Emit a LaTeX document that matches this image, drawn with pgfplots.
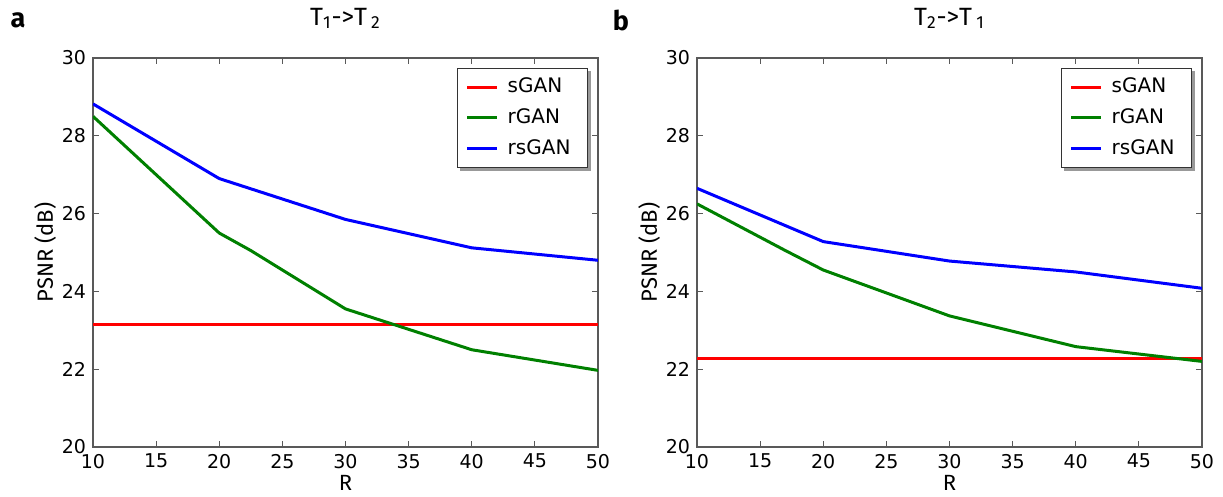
\documentclass[border=0pt]{standalone}
\usepackage{fontspec}
\setmainfont{DejaVu Sans}
\newfontfamily\labfont{Fira Sans}
\usepackage{pgfplots}
\pgfplotsset{compat=1.18}
\pgfdeclarelayer{background}
\pgfsetlayers{background,main}

\pgfplotsset{
  psnr/.style={
    scale only axis,
    width=252.5pt, height=194.5pt,
    xmin=10, xmax=50, ymin=20, ymax=30,
    xtick={10,15,...,50}, ytick={20,22,...,30},
    tick label style={font=\fontsize{9.5}{11}\selectfont},
    /pgf/number format/assume math mode=true,
    axis line style={black!65, line width=0.6pt},
    tick style={black!65, line width=0.5pt},
    major tick length=3pt,
    tick align=inside,
    xlabel={\labfont R}, ylabel={\labfont PSNR (dB)},
    label style={font=\fontsize{11}{13}\selectfont},
    xlabel style={yshift=3.5pt},
    ylabel style={yshift=-4pt},
    title style={font=\labfont\fontsize{12.5}{14}\selectfont, yshift=5pt},
    legend style={at={(0.98,0.975)}, anchor=north east,
      font=\fontsize{10}{12.5}\selectfont, draw=black!80,
      fill=white, inner xsep=4pt, inner ysep=3pt,
      row sep=2.5pt, nodes={inner xsep=4.5pt}},
    legend cell align=left,
    legend image code/.code={\draw[#1] (0pt,0pt) -- (15pt,0pt);},
    every axis plot/.append style={line width=1.5pt},
  }
}

\begin{document}
\begin{tikzpicture}
\useasboundingbox (0,0) rectangle (611.5pt,248.5pt);

\begin{axis}[psnr, at={(46.5pt,25pt)}, anchor=south west,
  title={T\textsubscript{1}->T\,\textsubscript{2}}, legend style={name=legA}]
\addplot[red] coordinates {(10,23.15) (20,23.15) (30,23.15) (40,23.15) (50,23.15)};
\addplot[green!50!black] coordinates {(10,28.5) (20,25.5) (22.5,25.05) (30,23.55) (40,22.5) (50,21.97)};
\addplot[blue] coordinates {(10,28.82) (20,26.9) (30,25.85) (40,25.12) (50,24.8)};
\legend{sGAN, rGAN, rsGAN}
\end{axis}

\begin{axis}[psnr, at={(348.5pt,25pt)}, anchor=south west,
  title={T\textsubscript{2}->T\,\textsubscript{1}}, legend style={name=legB}]
\addplot[red] coordinates {(10,22.28) (20,22.28) (30,22.28) (40,22.28) (50,22.28)};
\addplot[green!50!black] coordinates {(10,26.25) (17,25.05) (20,24.55) (30,23.37) (40,22.58) (50,22.2)};
\addplot[blue] coordinates {(10,26.65) (20,25.28) (30,24.78) (40,24.5) (50,24.08)};
\legend{sGAN, rGAN, rsGAN}
\end{axis}

\begin{pgfonlayer}{background}
\fill[black!40] ([shift={(1.5pt,-1.5pt)}]legA.south west) rectangle ([shift={(1.5pt,-1.5pt)}]legA.north east);
\fill[black!40] ([shift={(1.5pt,-1.5pt)}]legB.south west) rectangle ([shift={(1.5pt,-1.5pt)}]legB.north east);
\end{pgfonlayer}

\node[font=\labfont\bfseries\fontsize{13.5}{15}\selectfont] at (9pt,238.5pt) {a};
\node[font=\labfont\bfseries\fontsize{13.5}{15}\selectfont] at (310.5pt,238.5pt) {b};
\end{tikzpicture}
\end{document}
